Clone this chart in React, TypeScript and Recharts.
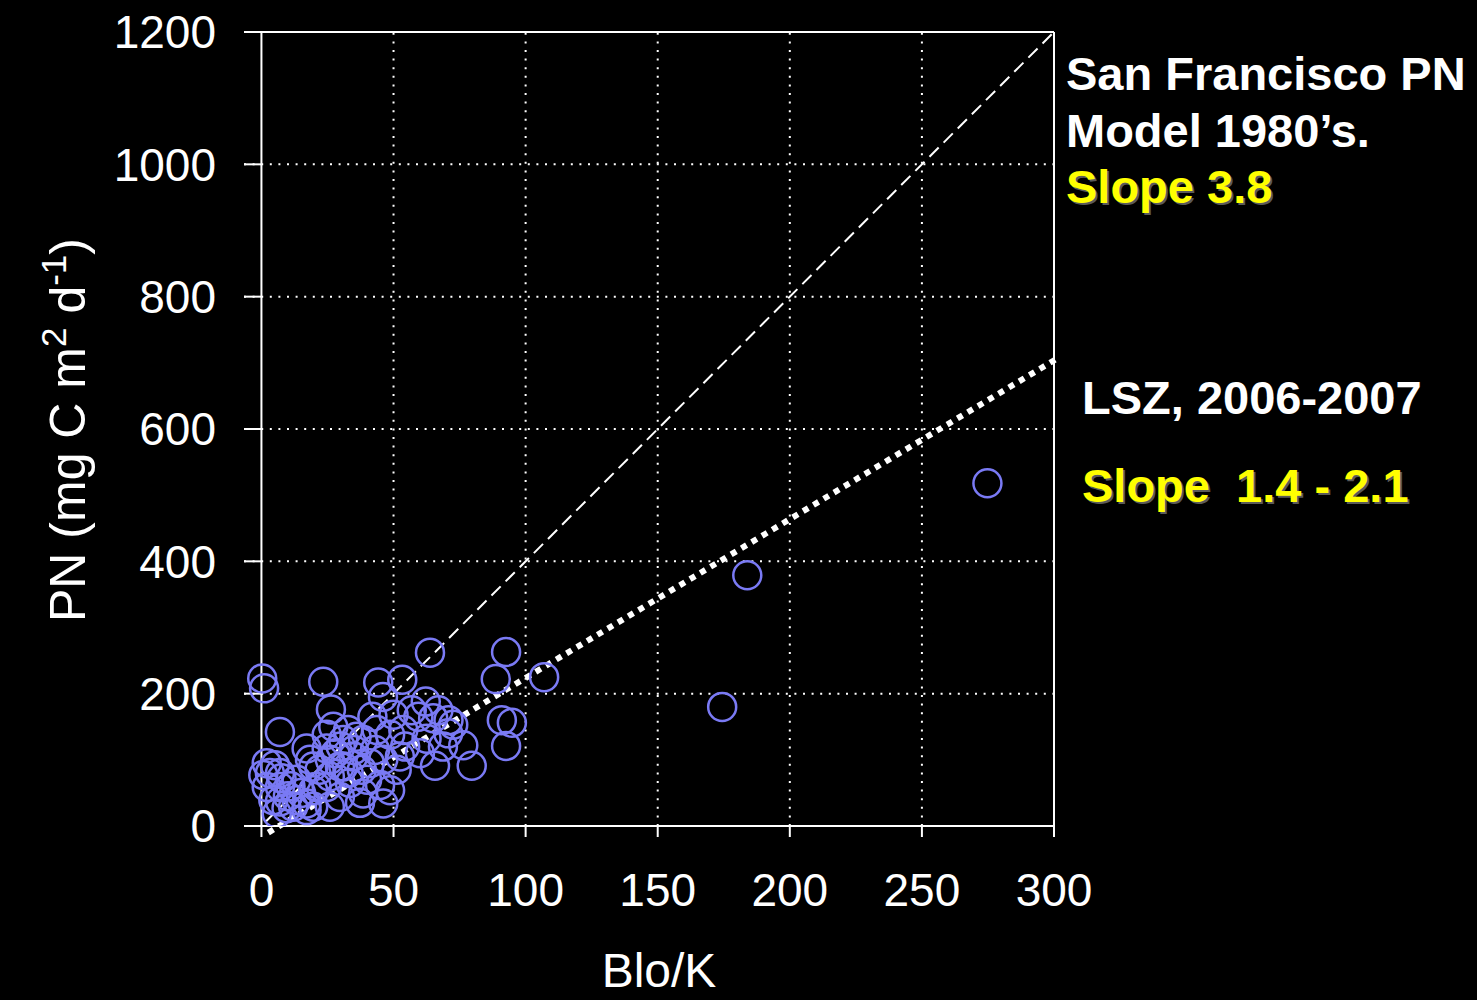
import React from "react"
import { CartesianGrid, ReferenceLine, Scatter, ScatterChart, XAxis, YAxis } from "recharts"

const xTicks = [0, 50, 100, 150, 200, 250, 300]
const yTicks = [0, 200, 400, 600, 800, 1000, 1200]
const X_MIN = -6.6

// Blo/K and PN, one entry per station/date
const bioK = [
  274.8, 183.9, 174.4, 107, 92.6, 63.8, 88.7, 94.8, 91, 92.6, 79.6,
  0.3, 1, 23.4, 7,
  44.2, 53.3, 46, 62.2, 26.3, 42, 50, 59.4, 65, 70.8, 72.6, 68.7, 65.7, 60, 54.4, 48.7, 38.5, 32.8, 27.2, 24.7, 17.1,
  76.4, 70.7, 67, 56.9, 53.7, 43.6, 62.5,
  2, 0.7, 7, 13.3, 19.6, 25.9, 31, 34.8, 41.1, 46.1, 51.2, 48.7, 46.1, 38.5, 33.5, 29.7, 24.7, 19.6, 19.6, 13.3,
  9.5, 5.8, 4.5, 7, 2, 25.9, 17.1, 5.1, 3.2, 7.6, 7, 12, 17.1, 20.9, 18.4, 25.9, 29.7, 24.7, 37.3, 44.9, 52.4,
  30, 35, 28, 33, 38, 40, 22, 15, 10, 11, 43, 36, 31,
]
const pn = [
  518, 379, 180, 225, 263, 262, 222, 156, 160, 121, 91,
  223, 208, 218, 142,
  217, 221, 195, 188, 176, 165, 168, 165, 163, 160, 153, 120, 91, 110, 120, 138, 130, 145, 150, 138, 117,
  122, 140, 175, 175, 145, 145, 132,
  95, 77, 80, 70, 90, 100, 90, 105, 95, 100, 85, 54, 34, 49, 65, 44, 59, 54, 29, 39,
  27, 19, 39, 59, 59, 29, 24, 92, 80, 72, 37, 29, 34, 59, 100, 75, 90, 117, 35, 62, 105,
  120, 115, 110, 80, 85, 70, 85, 50, 45, 60, 115, 135, 130,
]

// fitted lines: SF PN model 1980's and LSZ 2006-2007
const sfModelLine = [
  { x: 1.5, y: 6 },
  { x: 300, y: 1200 },
]
const lszLine = [
  { x: 2.6, y: -10 },
  { x: 302.2, y: 709 },
]

const data = bioK.map((x, i) => ({ x, y: pn[i] }))

const FONT = "'Liberation Sans', Arial, sans-serif"

const Ring = (props: any) => {
  if (props.cx == null || props.cy == null) return null
  return <circle cx={props.cx} cy={props.cy} r={14} fill="none" stroke="#7a7af4" strokeWidth={2.5} />
}

const noteStyle: React.CSSProperties = {
  position: "absolute",
  fontFamily: FONT,
  fontWeight: "bold",
  fontSize: 47,
  lineHeight: "47px",
  whiteSpace: "nowrap",
  color: "#fff",
}
const yellow: React.CSSProperties = { color: "#ffff00", textShadow: "2px 2px 0 #5a5a5a" }

export default function App() {
  return (
    <div style={{ position: "absolute", left: 0, top: 0, width: 1477, height: 1000, background: "#000", overflow: "hidden" }}>
      <ScatterChart width={1477} height={1000} margin={{ top: 32, right: 423, bottom: 74, left: 144 }}>
        <CartesianGrid vertical={false} stroke="#fff" strokeWidth={2} strokeDasharray="2 6.6" />
        <XAxis
          type="number"
          dataKey="x"
          domain={[X_MIN, 300]}
          ticks={xTicks}
          interval={0}
          allowDataOverflow
          height={100}
          axisLine={{ stroke: "#fff", strokeWidth: 2 }}
          tickLine={{ stroke: "#fff", strokeWidth: 2 }}
          tickSize={11}
          tickMargin={36}
          tick={{ fill: "#fff", fontSize: 46, fontFamily: FONT }}
        />
        <YAxis
          type="number"
          dataKey="y"
          domain={[0, 1200]}
          ticks={yTicks}
          interval={0}
          allowDataOverflow
          width={100}
          axisLine={false}
          tickLine={false}
          tickSize={20}
          tickMargin={8}
          tick={{ fill: "#fff", fontSize: 46, fontFamily: FONT }}
        />
        {xTicks.slice(1, -1).map((t) => (
          <ReferenceLine key={"g" + t} x={t} stroke="#fff" strokeWidth={2} strokeDasharray="2 6.6" />
        ))}
        <ReferenceLine y={1200} stroke="#fff" strokeWidth={2} />
        <ReferenceLine x={300} stroke="#fff" strokeWidth={2} />
        <ReferenceLine x={0} stroke="#fff" strokeWidth={2} />
        {yTicks.map((t) => (
          <ReferenceLine
            key={t}
            segment={[
              { x: X_MIN, y: t },
              { x: 0, y: t },
            ]}
            stroke="#fff"
            strokeWidth={2}
            ifOverflow="visible"
          />
        ))}
        <Scatter data={data} shape={Ring} isAnimationActive={false} />
        <ReferenceLine segment={sfModelLine} stroke="#fff" strokeWidth={2} strokeDasharray="13 7" ifOverflow="visible" />
        <ReferenceLine segment={lszLine} stroke="#fff" strokeWidth={6} strokeDasharray="6 6" ifOverflow="visible" />
      </ScatterChart>

      <div
        style={{
          position: "absolute",
          left: 70,
          top: 430,
          transform: "translate(-50%, -50%) rotate(-90deg)",
          fontFamily: FONT,
          fontSize: 50,
          lineHeight: "50px",
          whiteSpace: "nowrap",
          color: "#fff",
        }}
      >
        PN (mg C m
        <span style={{ fontSize: "0.7em", position: "relative", top: "-0.55em" }}>2</span> d
        <span style={{ fontSize: "0.7em", position: "relative", top: "-0.55em" }}>-1</span>)
      </div>
      <div
        style={{
          position: "absolute",
          left: 659,
          top: 947,
          transform: "translateX(-50%)",
          fontFamily: FONT,
          fontSize: 48,
          lineHeight: "47px",
          whiteSpace: "nowrap",
          color: "#fff",
        }}
      >
        Blo/K
      </div>

      <div style={{ ...noteStyle, left: 1066, top: 50 }}>San Francisco PN</div>
      <div style={{ ...noteStyle, left: 1066, top: 107 }}>Model 1980’s.</div>
      <div style={{ ...noteStyle, ...yellow, left: 1066, top: 163 }}>Slope 3.8</div>
      <div style={{ ...noteStyle, left: 1082, top: 374 }}>LSZ, 2006-2007</div>
      <div style={{ ...noteStyle, ...yellow, left: 1082, top: 462, whiteSpace: "pre" }}>Slope  1.4 - 2.1</div>
    </div>
  )
}
